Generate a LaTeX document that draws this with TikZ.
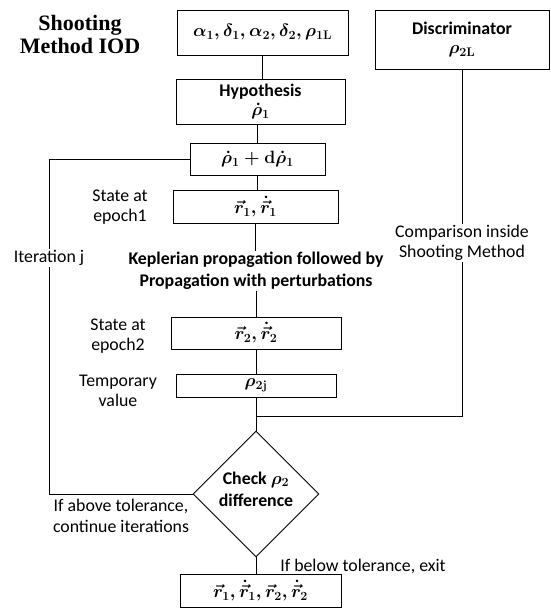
\RequirePackage{fix-cm}
\documentclass[tikz,border=0pt]{standalone}
\usepackage{amsmath}
\usepackage{bm}
\usepackage{fontspec}
\setmainfont{Carlito}
\newfontfamily\titlefont{Liberation Serif}
\usetikzlibrary{shapes.geometric}
\newcommand\bmth[1]{{\boldmath$#1$}}
\tikzset{
  fbox/.style={draw, line width=0.9pt, inner sep=0pt, align=center, fill=white},
  conn/.style={draw, line width=0.9pt},
  lbl/.style={align=center, inner sep=1pt},
  lblw/.style={align=center, inner sep=1pt, fill=white}
}
\begin{document}
\begin{tikzpicture}[x=1pt,y=-1pt,font=\fontsize{17.8}{20.5}\selectfont]
\fill[white] (0,0) rectangle (550,609);
\useasboundingbox (0,0) rectangle (550,609);

% title
\node[lbl, font=\titlefont\bfseries\fontsize{22}{23}\selectfont] (title) at (80,34) {Shooting\\Method IOD};

% boxes
\node[fbox, minimum width=171pt, minimum height=45pt] (inbox) at (262.5,32.5) {\bmth{\alpha_1,\delta_1,\alpha_2,\delta_2,\rho_{1\mathbf{L}}}};
\node[fbox, minimum width=174pt, minimum height=59pt] (disc) at (462,39.5) {\textbf{Discriminator}\\[-1pt]\bmth{\rho_{2\mathbf{L}}}};
\node[fbox, minimum width=169pt, minimum height=45pt] (hyp) at (260.5,101.5) {\textbf{Hypothesis}\\[-1pt]\bmth{\dot\rho_1}};
\node[fbox, minimum width=135pt, minimum height=32pt] (rhod) at (257.5,159) {\bmth{\dot\rho_1+\mathbf{d}\dot\rho_1}};
\node[fbox, minimum width=165pt, minimum height=33pt] (rone) at (255.5,206.5) {\bmth{\vec r_1,\dot{\vec r}_1}};
\node[lbl, font=\bfseries\fontsize{17.8}{22}\selectfont] (kep) at (256,271) {Keplerian propagation followed by\\Propagation with perturbations};
\node[fbox, minimum width=170pt, minimum height=32pt] (rtwo) at (256,333) {\bmth{\vec r_2,\dot{\vec r}_2}};
\node[fbox, minimum width=160pt, minimum height=23pt] (rhotj) at (256,385.5) {\bmth{\rho_{2\mathbf{j}}}};
\node[fbox, diamond, shape aspect=1, minimum width=126pt, minimum height=126pt] (chk) at (256,494) {};
\node[lbl, font=\bfseries\fontsize{17.8}{22}\selectfont] (chktxt) at (256,489) {Check \bmth{\rho_2}\\difference};
\node[fbox, minimum width=161pt, minimum height=33pt] (outbox) at (260.5,590.5) {\bmth{\vec r_1,\dot{\vec r}_1,\vec r_2,\dot{\vec r}_2}};

% side labels
\node[lbl] (sone) at (120,207) {State at\\epoch1};
\node[lbl] (stwo) at (118,336) {State at\\epoch2};
\node[lbl] (tv) at (118,391) {Temporary\\value};
\node[lbl] (above) at (121,516) {If above tolerance,\\continue iterations};
\node[lbl] (below) at (363,566) {If below tolerance, exit};

% connectors
\draw[conn] (inbox.south) -- (inbox.south |- hyp.north);
\draw[conn] (rhod.north |- hyp.south) -- (rhod.north);
\draw[conn] (rhod.south) -- (rhod.south |- rone.north);
\draw[conn] (rone.south) -- (rone.south |- kep.north);
\draw[conn] (rtwo.north |- kep.south) -- (rtwo.north);
\draw[conn] (rtwo.south) -- (rhotj.north);
\draw[conn] (rhotj.south) -- (chk.north);
\draw[conn] (chk.south) -- (chk.south |- outbox.north);
\coordinate (jn) at (256,416);
\coordinate (dc) at (462,416);
\draw[conn] (disc.south) -- (dc) -- (jn);
\node[lblw] (cmp) at (462,243) {Comparison inside\\Shooting Method};
\coordinate (lpa) at (49,494);
\coordinate (lpb) at (49,159);
\draw[conn] (chk.west) -- (lpa) -- (lpb) -- (rhod.west);
\node[lblw] (itj) at (49,258) {Iteration j};
\end{tikzpicture}
\end{document}
